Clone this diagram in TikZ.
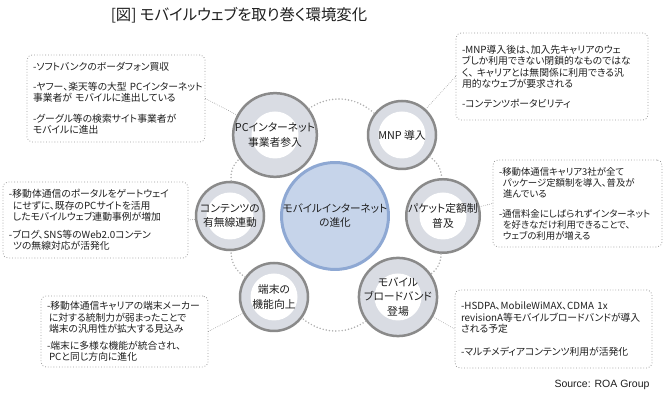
\documentclass[tikz,border=0pt]{standalone}
\usepackage{fontspec}
\setmainfont[RawFeature=+palt]{Noto Sans CJK JP}
\newfontfamily\srcfont{Liberation Sans}
\usetikzlibrary{calc}
\exhyphenpenalty=10000
\hyphenpenalty=10000

\definecolor{ringgray}{HTML}{8A8A8A}
\definecolor{ringfill}{HTML}{D9DCE3}
\definecolor{hubfill}{HTML}{C6D4EA}
\definecolor{hubline}{HTML}{8EA8D3}
\definecolor{boxline}{HTML}{999999}
\definecolor{dotgray}{HTML}{AFAFAF}
\definecolor{txt}{HTML}{1E1E1E}

\tikzset{
  hub/.style={circle, draw=hubline, line width=3pt, fill=hubfill, minimum size=103pt,
    inner sep=0pt, align=center, text=txt, font=\fontsize{10.6}{14}\selectfont},
  factor/.style={circle, draw=ringgray, line width=2.5pt, fill=ringfill, minimum size=68pt,
    inner sep=0pt, align=center, text=txt, font=\fontsize{10.8}{14.5}\selectfont,
    path picture={\fill[white] (path picture bounding box.center) circle (23.5pt);}},
  note/.style={draw=boxline, dotted, line width=0.8pt, rounded corners=5pt, align=left,
    inner xsep=6pt, inner ysep=3pt, text=txt, font=\fontsize{9.8}{11.5}\selectfont},
  ring/.style={draw=dotgray, line width=1.7pt, dash pattern=on 0pt off 3.2pt, line cap=round},
  link/.style={draw=ringgray, line width=0.8pt, dash pattern=on 0pt off 2pt, line cap=round}
}

\begin{document}
\begin{tikzpicture}[x=1pt, y=1pt]
\useasboundingbox (0,0) rectangle (669,414);

\node[text=txt] (title) at (239,399) {\fontsize{15.4}{18}\selectfont [図] モバイルウェブを取り巻く環境変化};

\node[hub] (hub) at (335,198) {モバイルインターネット\\の進化};

\node[factor] (pc) at (275,279) {PCインターネット\\事業者参入};
\node[factor] (mnp) at (402,279) {MNP 導入};
\node[factor] (packet) at (443,198) {パケット定額制\\普及};
\node[factor] (bb) at (398,117) {モバイル\\ブロードバンド\\登場};
\node[factor] (device) at (274,117) {端末の\\機能向上};
\node[factor] (content) at (230,198) {コンテンツの\\有無線連動};

\draw[ring] (pc) to[bend left=38] (mnp);
\draw[ring] (mnp) to[bend left=25] (packet);
\draw[ring] (packet) to[bend left=26] (bb);
\draw[ring] (bb) to[bend left=37] (device);
\draw[ring] (device) to[bend left=27] (content);
\draw[ring] (content) to[bend left=27] (pc);

\node[note, text width=166pt, minimum height=87pt] (pcnote) at (116,315.5) {%
-ソフトバンクのボーダフォン買収\\[8pt]
-ヤフー、楽天等の大型~PCインターネット\\
事業者が~モバイルに進出している\\[9pt]
-グーグル等の検索サイト事業者が\\
モバイルに進出};

\node[note, text width=180pt, minimum height=87pt] (mnpnote) at (552,337.5) {%
-MNP導入後は、加入先キャリアのウェ\\
ブしか利用できない閉鎖的なものではな\\
く、~キャリアとは無関係に利用できる汎\\
用的なウェブが要求される\\[8pt]
-コンテンツポータビリティ};

\node[note, text width=173pt, minimum height=76pt] (contentnote) at (95.5,194) {%
-移動体通信のポータルをゲートウェイ\\
\hspace*{4pt}にせずに、既存のPCサイトを活用\\
\hspace*{4pt}したモバイルウェブ連動事例が増加\\[6pt]
-ブログ、SNS等のWeb2.0コンテン\\
\hspace*{4pt}ツの無線対応が活発化};

\node[note, text width=157pt, minimum height=87pt, font=\fontsize{9.4}{11}\selectfont] (packetnote) at (577.5,210.5) {%
-移動体通信キャリア3社が全て\\
\hspace*{4pt}パッケージ定額制を導入、普及が\\
\hspace*{4pt}進んでいる\\[9pt]
-通信料金にしばられずインターネット\\
\hspace*{4pt}を好きなだけ利用できることで、\\
\hspace*{4pt}ウェブの利用が増える};

\node[note, text width=155pt, minimum height=71pt] (devicenote) at (124.5,82.5) {%
-移動体通信キャリアの端末メーカー\\
\hspace*{2pt}に対する統制力が弱まったことで\\
\hspace*{2pt}端末の汎用性が拡大する見込み\\[5pt]
-端末に多様な機能が統合され、\\
\hspace*{2pt}PCと同じ方向に進化};

\node[note, text width=185pt, minimum height=78pt] (bbnote) at (553.5,85) {%
-HSDPA、MobileWiMAX、CDMA~1x\\
revisionA等モバイルブロードバンドが導入\\
される予定\\[11pt]
-マルチメディアコンテンツ利用が活発化};

\draw[link] (pcnote.east) -- (pc);
\draw[link] (mnp) -- (mnpnote.west);
\draw[link] (contentnote.east) -- (content);
\draw[link] (packet) -- (packetnote.west);
\draw[link] (devicenote.east) -- (device);
\draw[link] (bb) -- (bbnote.west);

\node[anchor=east, text=txt] (source) at (653,29) {\srcfont\fontsize{10.5}{12}\selectfont Source: ROA Group};
\end{tikzpicture}
\end{document}
